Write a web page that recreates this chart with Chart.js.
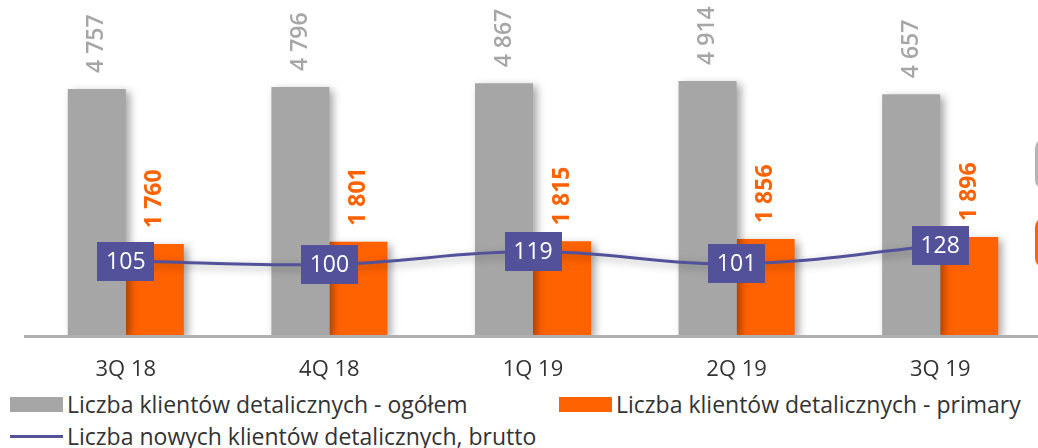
<!DOCTYPE html>
<html><head><meta charset="utf-8">
<script src="https://cdn.jsdelivr.net/npm/chart.js@4.4.1/dist/chart.umd.min.js"></script>
<style>
html,body{margin:0;padding:0;background:#fff;overflow:hidden;width:1038px;height:448px;}
#wrap{position:absolute;left:0;top:0;width:1050px;height:380px;}
.legend{position:absolute;height:28px;font-family:'Open Sans',sans-serif;font-size:23px;color:#333;white-space:nowrap;display:flex;align-items:center;}
.sw{display:inline-block;width:53px;height:15px;margin-right:4px;}
.ln{display:inline-block;width:53px;height:3px;margin-right:4px;background:#525199;}
.edge{position:absolute;left:1035px;width:40px;border-radius:10px;}
</style></head>
<body>
<div id="wrap"><canvas id="c"></canvas></div>
<div class="edge" style="top:138px;height:52px;background:#b5b5b5;"></div>
<div class="edge" style="top:217px;height:51px;background:#ff6200;"></div>
<div id="lg1" class="legend" style="left:10px;top:390px;"><span class="sw" style="background:#a6a6a6"></span><span id="t1"></span></div>
<div id="lg2" class="legend" style="left:559px;top:390px;"><span class="sw" style="background:#ff6200"></span><span id="t2"></span></div>
<div id="lg3" class="legend" style="left:10px;top:422px;"><span class="ln"></span><span id="t3"></span></div>
<script>
const categories = ['3Q 18','4Q 18','1Q 19','2Q 19','3Q 19'];
const totalClients = [4757, 4796, 4867, 4914, 4657];
const primaryClients = [1760, 1801, 1815, 1856, 1896];
const newClientsGross = [105, 100, 119, 101, 128];
const seriesNames = [
  'Liczba klientów detalicznych - ogółem',
  'Liczba klientów detalicznych - primary',
  'Liczba nowych klientów detalicznych, brutto'
];
const GRAY = '#a6a6a6', ORANGE = '#ff6200', PURPLE = '#525199';

document.getElementById('t1').textContent = seriesNames[0];
document.getElementById('t2').textContent = seriesNames[1];
document.getElementById('t3').textContent = seriesNames[2];

function fmt(v){ return String(v).replace(/\B(?=(\d{3})+(?!\d))/g, ' '); }

const shadowPlugin = {
  id: 'shadow',
  beforeDatasetDraw(chart){
    const ctx = chart.ctx; ctx.save();
    ctx.shadowColor = 'rgba(0,0,0,0.35)';
    ctx.shadowBlur = 8; ctx.shadowOffsetX = 4; ctx.shadowOffsetY = 3;
  },
  afterDatasetDraw(chart){ chart.ctx.restore(); }
};

const baselinePlugin = {
  id: 'baseline',
  beforeDatasetsDraw(chart){
    const ctx = chart.ctx, a = chart.chartArea;
    ctx.save();
    ctx.strokeStyle = '#b0b0b0'; ctx.lineWidth = 3;
    ctx.beginPath(); ctx.moveTo(a.left, a.bottom + 1.5); ctx.lineTo(chart.width, a.bottom + 1.5); ctx.stroke();
    ctx.restore();
  }
};

const labelPlugin = {
  id: 'labels',
  afterDatasetsDraw(chart){
    const ctx = chart.ctx;
    chart.data.datasets.forEach((ds, i) => {
      const meta = chart.getDatasetMeta(i);
      if (ds.type === 'line') {
        meta.data.forEach((pt, j) => {
          const w = 57, h = 39;
          ctx.save();
          ctx.fillStyle = PURPLE;
          ctx.fillRect(Math.round(pt.x - w/2), Math.round(pt.y - h/2), w, h);
          ctx.fillStyle = '#fff';
          ctx.font = '23px "Open Sans"';
          ctx.textAlign = 'center'; ctx.textBaseline = 'middle';
          ctx.fillText(String(ds.data[j]), pt.x, pt.y + 1);
          ctx.restore();
        });
      } else {
        meta.data.forEach((bar, j) => {
          ctx.save();
          ctx.translate(bar.x, bar.y - 16);
          ctx.rotate(-Math.PI / 2);
          ctx.textAlign = 'left'; ctx.textBaseline = 'middle';
          ctx.fillStyle = ds.labelColor;
          ctx.font = ds.labelFont;
          ctx.fillText(fmt(ds.data[j]), 0, 0);
          ctx.restore();
        });
      }
    });
  }
};

new Chart(document.getElementById('c'), {
  data: {
    labels: categories,
    datasets: [
      { type: 'line', label: seriesNames[2], data: newClientsGross, yAxisID: 'y2',
        borderColor: PURPLE, borderWidth: 3, pointRadius: 0, tension: 0.4, order: 0 },
      { type: 'bar', label: seriesNames[0], data: totalClients, yAxisID: 'y',
        backgroundColor: GRAY, labelColor: GRAY, labelFont: '600 23px "Open Sans"',
        categoryPercentage: 0.57, barPercentage: 1.0, order: 1 },
      { type: 'bar', label: seriesNames[1], data: primaryClients, yAxisID: 'y',
        backgroundColor: ORANGE, labelColor: ORANGE, labelFont: 'bold 23px "Open Sans"',
        categoryPercentage: 0.57, barPercentage: 1.0, order: 1 }
    ]
  },
  options: {
    responsive: true, maintainAspectRatio: false, animation: false,
    layout: { padding: { left: 24, right: 8, top: 0, bottom: 0 } },
    plugins: { legend: { display: false }, tooltip: { enabled: false }, title: { display: false } },
    scales: {
      x: {
        grid: { display: false }, border: { display: false },
        ticks: { color: '#333', padding: 14, font: { family: 'Open Sans', size: 22 } },
        afterFit: s => { s.height = 45; }
      },
      y: { display: false, min: 0, max: 6478 },
      y2: { display: false, min: -4, max: 490, position: 'right' }
    }
  },
  plugins: [shadowPlugin, baselinePlugin, labelPlugin]
});
</script>
</body></html>
